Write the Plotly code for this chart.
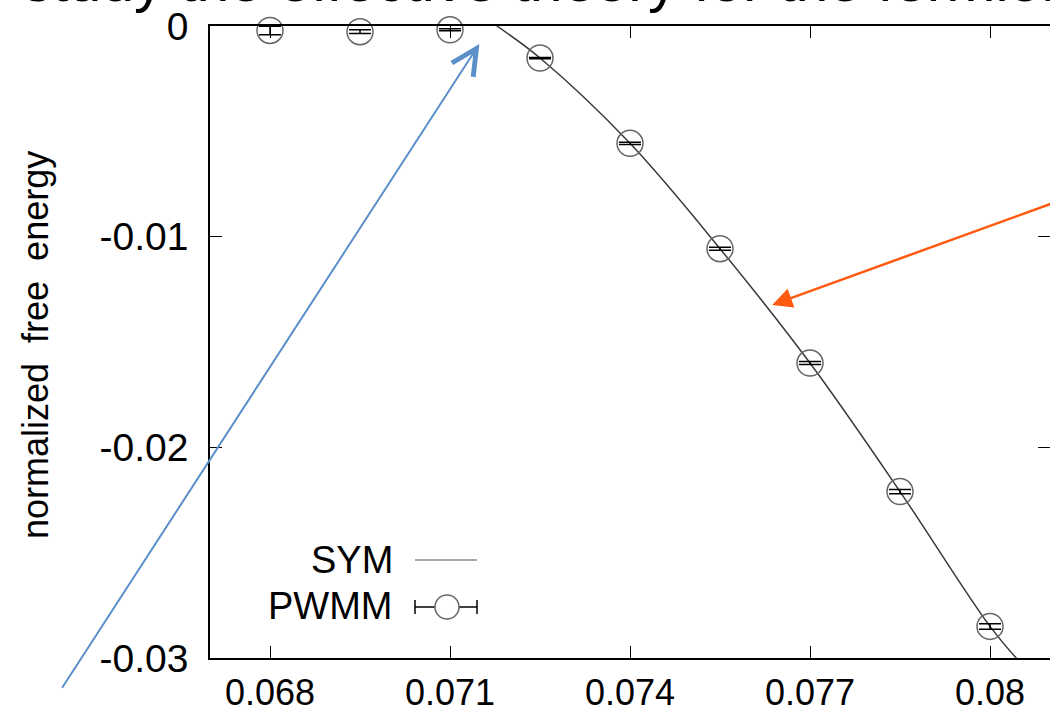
import plotly.graph_objects as go

# ---- data ----
pwmm_x = [0.068, 0.0695, 0.071, 0.0725, 0.074, 0.0755, 0.077, 0.0785, 0.080]
pwmm_y = [-0.00021, -0.00027, -0.00018, -0.00152, -0.00557, -0.01057, -0.01600, -0.02210, -0.02850]
pwmm_err = [0.00020, 0.00009, 0.00005, 0.00003, 0.00005, 0.00007, 0.00007, 0.00010, 0.00013]

sym_x = [0.07178, 0.0725, 0.074, 0.0755, 0.077, 0.0785, 0.080, 0.08050]
sym_y = [0.0, -0.00152, -0.00557, -0.01057, -0.01600, -0.02210, -0.02850, -0.03020]

x_ticks = [0.068, 0.071, 0.074, 0.077, 0.080]
x_ticklabels = ["0.068", "0.071", "0.074", "0.077", "0.08"]
y_ticks = [0.0, -0.01, -0.02, -0.03]
y_ticklabels = ["0", "-0.01", "-0.02", "-0.03"]

W, H = 1050, 714
L, R, T, B = 210, 0, 26, 56
SANS = "Liberation Sans, Arial, sans-serif"


def px(X):
    return (X - L) / (W - L - R)


def py(Y):
    return (H - B - Y) / (H - T - B)


fig = go.Figure()
fig.add_trace(go.Scatter(
    x=sym_x, y=sym_y, mode="lines", name="SYM",
    line=dict(color="#3a3a3a", width=1.5, shape="spline"),
    showlegend=False,
))
fig.add_trace(go.Scatter(
    x=pwmm_x, y=pwmm_y, mode="markers", name="PWMM",
    marker=dict(symbol="circle-open", size=26, color="#666666", line=dict(width=1.5)),
    error_y=dict(type="data", array=pwmm_err, color="black", thickness=1.5, width=11),
    cliponaxis=False, showlegend=False,
))

axis_common = dict(
    ticks="inside", ticklen=12, tickwidth=1.3, tickcolor="black",
    showline=True, linecolor="black", linewidth=1.5, mirror="ticks",
    showgrid=False, zeroline=False, automargin=False,
)
fig.update_xaxes(range=[0.067, 0.081], tickmode="array", tickvals=x_ticks,
                 ticktext=x_ticklabels, ticklabelstandoff=2,
                 tickfont=dict(family=SANS, size=36, color="black"), **axis_common)
fig.update_yaxes(range=[-0.03, 0.0], tickmode="array", tickvals=y_ticks,
                 ticktext=y_ticklabels, ticklabelstandoff=12,
                 tickfont=dict(family=SANS, size=39, color="black"), **axis_common)

annotations = [
    # cut-off slide heading at the top
    dict(text="to study the effective theory for the fermions", xref="paper", yref="paper",
         x=px(-44), y=py(15), xanchor="left", yanchor="bottom", showarrow=False,
         font=dict(family=SANS, size=59, color="black"), borderpad=0),
    # y-axis title
    dict(text="normalized\u00a0 free\u00a0 energy", xref="paper", yref="paper",
         x=px(35), y=py(345), xanchor="center", yanchor="middle", textangle=-90,
         showarrow=False, font=dict(family=SANS, size=36, color="black")),
    # legend labels
    dict(text="SYM", xref="paper", yref="paper", x=px(395), y=py(560),
         xanchor="right", yanchor="middle", showarrow=False,
         font=dict(family=SANS, size=38, color="black")),
    dict(text="PWMM", xref="paper", yref="paper", x=px(395), y=py(606),
         xanchor="right", yanchor="middle", showarrow=False,
         font=dict(family=SANS, size=38, color="black")),
    # blue arrow
    dict(text="", xref="x", yref="y", axref="x", ayref="y",
         x=0.07149, y=-0.00085, ax=0.06452, ay=-0.03148,
         showarrow=True, arrowhead=5, arrowsize=2.5, arrowwidth=2, arrowcolor="#5B8FC9"),
    # orange arrow
    dict(text="", xref="x", yref="y", axref="x", ayref="y",
         x=0.07637, y=-0.01324, ax=0.08116, ay=-0.00829,
         showarrow=True, arrowhead=2, arrowsize=1.6, arrowwidth=2.5, arrowcolor="#FF5A0F"),
]

shapes = [
    # SYM legend sample
    dict(type="line", xref="paper", yref="paper", x0=px(415), x1=px(477), y0=py(560), y1=py(560),
         line=dict(color="#a8a8a8", width=2)),
    # PWMM legend sample: error bar with caps and circle
    dict(type="line", xref="paper", yref="paper", x0=px(415), x1=px(477), y0=py(607), y1=py(607),
         line=dict(color="black", width=1.5)),
    dict(type="line", xref="paper", yref="paper", x0=px(415), x1=px(415), y0=py(600), y1=py(614),
         line=dict(color="black", width=1.5)),
    dict(type="line", xref="paper", yref="paper", x0=px(477), x1=px(477), y0=py(600), y1=py(614),
         line=dict(color="black", width=1.5)),
    dict(type="circle", xref="paper", yref="paper", x0=px(435), x1=px(459), y0=py(595), y1=py(619),
         line=dict(color="#666666", width=1.5), fillcolor="white"),
]

fig.update_layout(
    width=W, height=H,
    margin=dict(l=L, r=R, t=T, b=B, pad=0, autoexpand=False),
    paper_bgcolor="white", plot_bgcolor="white",
    showlegend=False,
    annotations=annotations, shapes=shapes,
)

fig.write_html(
    "out.html",
    config={"displayModeBar": False},
    post_script="document.body.style.margin='0px';document.body.style.overflow='hidden';",
)
